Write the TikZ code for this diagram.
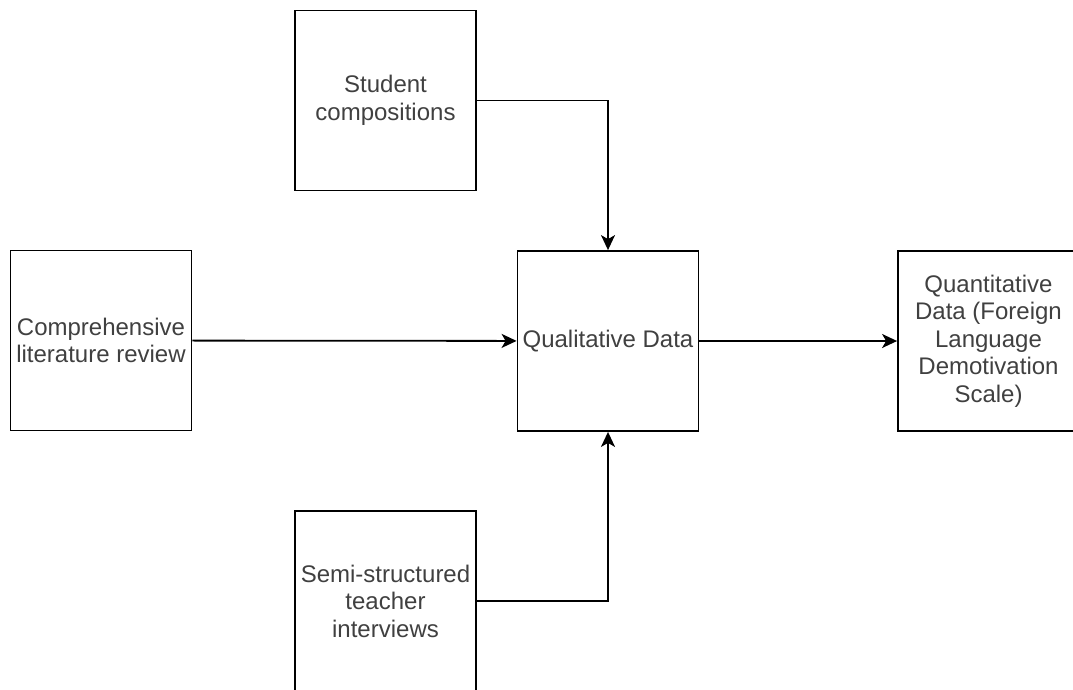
\documentclass[tikz,border=0pt]{standalone}
\usepackage{fontspec}
\setmainfont{Liberation Sans}
\usepackage{tikz}
\usetikzlibrary{arrows.meta}

\begin{document}
\begin{tikzpicture}[x=1pt,y=-1pt,
    box/.style={draw,line width=1.8pt,minimum width=181pt,minimum height=180pt,inner sep=0pt,align=center,font=\fontsize{24}{27.5}\selectfont,text=black!75},
    link/.style={line width=1.8pt,-{Stealth[length=15pt,width=14pt,inset=4pt]}}]
      \useasboundingbox (0,0) rectangle (1073,689);
      \clip (0,0) rectangle (1073,689);
      \node[box](stud) at (385.5,100.5) {Student\\compositions};
      \node[box](lit) at (101,340.5) {Comprehensive\\literature review};
      \node[box](qual) at (608,341) {Qualitative Data};
      \node[box](quant) at (988.5,341) {Quantitative\\Data (Foreign\\Language\\Demotivation\\Scale)};
      \node[box](semi) at (385.5,601) {Semi-structured\\teacher\\interviews};
      \draw[link] (stud.east) -| (qual.north);
      \draw[link] (semi.east) -| (qual.south);
      \draw[link] (lit) -- (qual);
      \draw[link] (qual) -- (quant);
    \end{tikzpicture}
\end{document}
